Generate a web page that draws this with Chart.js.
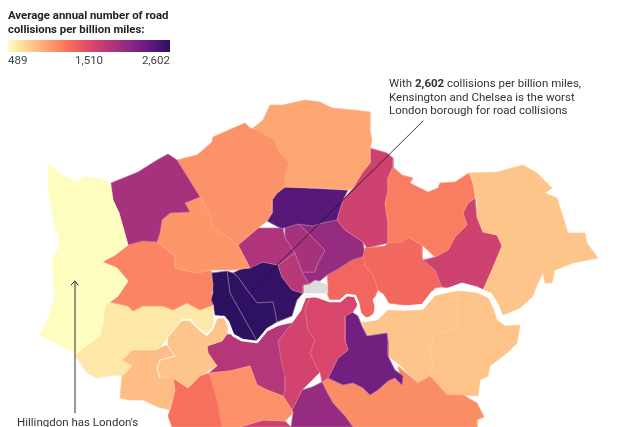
<!DOCTYPE html>
<html><head><meta charset="utf-8">
<style>html,body{margin:0;padding:0;background:#fff;overflow:hidden}canvas{display:block}</style>
<script src="https://cdn.jsdelivr.net/npm/chart.js@4"></script>
</head><body><canvas id="c" width="640" height="427"></canvas>
<script>
// ---- Data: borough names, values and outlines in map units ----
const boroughNames = ["Hillingdon","Harrow","Barnet","Enfield","Brent","Ealing","Hounslow","Richmond","Kingston","Sutton","Merton","SouthEdge","Wandsworth","Lambeth","Southwark","Croydon","Lewisham","Bromley","Greenwich","Bexley","Havering","Redbridge","Barking","Newham","WalthamForest","Haringey","Camden","Islington","Hackney","Holborn","Hammersmith","Kensington","Westminster","City","TowerHamlets"];
const boroughValues = [489,1905,1090,980,1060,1170,616,810,850,1281,1100,1651,1820,1630,1588,2010,2243,1120,810,820,810,1200,1651,1334,1651,2400,1860,1905,2010,1800,2602,2590,2560,null,1340];
const hillingdon = [[48,163],[57,172],[68,178],[78,182],[85,177],[97,178],[110,183],[113,200],[119,213],[128,245],[115,255],[102,262],[117,268],[128,281],[118,296],[110,302],[105,306],[103,323],[100,336],[87,345],[77,353],[72,351],[40,335],[50,313],[55,296],[52,260],[60,245],[58,236],[52,213],[48,190]];
const harrow = [[111,183],[138,172],[157,160],[168,154],[177,160],[200,197],[185,203],[190,212],[170,213],[162,220],[160,233],[157,242],[143,241],[128,245],[119,213],[113,200]];
const barnet = [[177,160],[197,155],[203,150],[212,142],[213,137],[238,126],[245,123],[250,128],[257,130],[275,140],[278,150],[289,163],[285,177],[285,187],[277,193],[272,200],[272,213],[267,221],[258,228],[238,245],[230,238],[213,228],[210,213],[200,197]];
const enfield = [[253,128],[263,120],[270,105],[283,105],[305,100],[320,102],[332,108],[353,110],[370,112],[370,130],[372,140],[370,148],[370,163],[362,173],[353,188],[348,190],[320,188],[285,187],[285,177],[289,163],[278,150],[275,140],[257,130]];
const brent = [[200,197],[185,203],[190,212],[170,213],[162,220],[160,233],[157,242],[175,256],[175,268],[187,271],[197,273],[211,270],[233,270],[250,268],[238,245],[230,238],[213,228],[210,213]];
const ealing = [[128,245],[143,241],[157,242],[175,256],[175,268],[187,271],[197,273],[211,270],[213,285],[211,300],[213,305],[200,310],[187,303],[173,310],[163,306],[143,306],[133,311],[128,306],[110,302],[118,296],[128,281],[117,268],[102,262],[115,255]];
const hounslow = [[110,302],[128,306],[133,311],[143,306],[163,306],[173,310],[187,303],[200,310],[213,305],[213,328],[207,335],[200,330],[190,320],[182,320],[167,338],[160,348],[155,350],[132,350],[122,360],[132,366],[122,376],[113,375],[97,378],[87,373],[75,355],[87,345],[100,336],[103,323],[105,306]];
const richmond = [[182,320],[190,320],[200,330],[207,335],[213,328],[217,317],[224,317],[227,326],[227,334],[222,341],[207,346],[208,353],[217,366],[200,376],[188,388],[173,378],[160,378],[157,368],[160,360],[175,356],[167,345],[167,338]];
const kingston = [[132,350],[155,350],[167,345],[175,356],[160,360],[157,368],[160,378],[173,378],[175,390],[170,410],[158,407],[143,400],[130,400],[120,398],[122,376],[132,366],[122,360]];
const sutton = [[173,378],[188,388],[200,376],[209,373],[217,400],[222,427],[172,427],[168,416],[170,410],[175,390]];
const merton = [[209,373],[230,371],[250,366],[257,385],[267,390],[283,396],[292,410],[293,413],[285,421],[263,420],[240,427],[222,427],[217,413]];
const southEdge = [[240,427],[263,420],[285,421],[291,427]];
const wandsworth = [[207,346],[222,341],[227,334],[233,335],[242,340],[257,342],[267,330],[277,325],[292,323],[278,341],[282,365],[285,376],[285,390],[283,396],[267,390],[257,385],[250,366],[230,371],[209,373],[217,366],[208,353]];
const lambeth = [[292,323],[300,310],[305,296],[310,296],[305,310],[308,330],[315,340],[310,353],[318,370],[320,372],[302,390],[292,410],[283,396],[285,390],[282,365],[278,341]];
const southwark = [[310,296],[320,298],[330,302],[340,301],[347,295],[355,296],[358,304],[353,312],[345,316],[345,341],[348,350],[338,358],[328,378],[322,382],[320,372],[318,370],[310,353],[315,340],[308,330],[305,310]];
const croydon = [[292,410],[302,390],[312,387],[322,382],[328,394],[333,403],[345,416],[353,427],[291,427],[293,413]];
const lewisham = [[345,316],[352,312],[358,316],[362,326],[367,336],[387,333],[388,341],[388,356],[395,370],[403,376],[402,385],[395,378],[388,381],[378,390],[370,395],[363,388],[353,383],[343,385],[328,378],[338,358],[348,350],[345,341]];
const bromley = [[328,378],[343,385],[353,383],[363,388],[370,395],[378,390],[388,381],[395,378],[402,385],[398,366],[418,383],[430,376],[447,395],[463,395],[477,403],[484,417],[477,420],[477,427],[353,427],[345,416],[333,403],[328,394],[322,382]];
const greenwich = [[362,322],[378,320],[388,310],[403,311],[423,310],[435,296],[448,293],[458,291],[458,328],[433,336],[430,350],[433,366],[430,376],[418,383],[400,365],[388,356],[388,341],[387,333],[367,336]];
const bexley = [[458,291],[477,293],[488,298],[493,308],[497,320],[505,326],[520,325],[517,343],[507,353],[490,366],[488,376],[480,380],[478,396],[463,395],[447,395],[433,380],[430,376],[433,366],[430,350],[433,336],[458,328]];
const havering = [[469,173],[497,172],[523,165],[537,173],[552,188],[545,193],[557,198],[568,233],[585,233],[587,243],[598,258],[573,263],[555,270],[552,283],[545,283],[543,273],[537,285],[533,296],[520,308],[503,315],[500,313],[497,301],[490,295],[483,290],[492,270],[502,246],[497,235],[483,232],[477,217],[477,202],[475,193],[473,183]];
const redbridge = [[393,167],[402,175],[413,178],[410,183],[420,188],[428,192],[438,188],[440,183],[455,182],[469,173],[473,183],[475,198],[468,203],[463,213],[467,225],[455,237],[448,250],[435,257],[422,245],[408,237],[403,242],[388,243],[388,223],[385,203],[388,192],[388,178]];
const barking = [[475,198],[477,217],[483,232],[497,235],[502,246],[492,270],[483,290],[477,288],[462,283],[448,288],[442,287],[435,270],[423,260],[435,257],[448,250],[455,237],[467,225],[463,213],[468,203]];
const newham = [[423,260],[435,270],[442,287],[435,288],[427,300],[420,306],[403,305],[388,303],[382,293],[378,290],[373,275],[365,266],[363,256],[365,248],[385,246],[388,243],[408,237],[422,245],[422,256]];
const walthamForest = [[370,148],[387,153],[393,158],[393,167],[388,178],[388,192],[385,203],[388,223],[388,243],[367,248],[363,242],[345,230],[337,220],[343,200],[353,188],[362,173],[370,163]];
const haringey = [[272,200],[277,193],[285,187],[348,190],[343,200],[337,220],[322,223],[313,226],[298,224],[285,228],[280,228],[267,221],[272,213]];
const camden = [[238,245],[258,228],[283,228],[285,238],[295,253],[278,265],[263,262],[250,268]];
const islington = [[285,228],[298,224],[308,233],[318,243],[325,250],[317,265],[315,272],[302,272],[295,253],[285,238]];
const hackney = [[298,224],[313,226],[322,223],[337,220],[345,230],[363,242],[365,256],[352,260],[340,268],[327,275],[320,281],[315,280],[309,284],[302,272],[315,272],[317,265],[325,250],[318,243],[308,233]];
const holborn = [[278,265],[295,253],[302,272],[309,284],[303,285],[303,293],[292,290],[282,277]];
const hammersmith = [[211,273],[227,271],[230,293],[245,320],[257,341],[247,341],[233,335],[227,320],[220,316],[215,315],[213,305],[210,301],[213,293]];
const kensington = [[227,271],[233,273],[238,277],[247,290],[257,303],[273,302],[277,322],[267,328],[257,341],[245,320],[230,293]];
const westminster = [[233,273],[243,268],[257,263],[263,262],[278,265],[282,277],[292,290],[303,293],[297,300],[292,316],[277,322],[273,302],[257,303],[247,290],[238,277]];
const city = [[303,285],[309,284],[315,280],[327,285],[328,293],[303,293]];
const towerHamlets = [[327,275],[340,268],[352,260],[365,256],[365,266],[373,275],[378,290],[375,297],[374,313],[367,318],[361,313],[358,303],[355,296],[347,295],[340,301],[330,301],[327,293],[328,285]];
const boroughShapes = [hillingdon,harrow,barnet,enfield,brent,ealing,hounslow,richmond,kingston,sutton,merton,southEdge,wandsworth,lambeth,southwark,croydon,lewisham,bromley,greenwich,bexley,havering,redbridge,barking,newham,walthamForest,haringey,camden,islington,hackney,holborn,hammersmith,kensington,westminster,city,towerHamlets];
const riverUpper = [[182,320],[167,338],[167,345],[175,356],[160,360],[157,368],[160,378]];
const riverWest = [[182,320],[190,320],[200,330],[207,335],[213,328],[217,317]];
const riverMid = [[217,317],[224,317],[228,322],[233,335],[242,340],[257,342],[267,330],[277,325],[292,321],[300,310],[305,297],[316,296],[330,301],[340,301],[347,295],[355,296],[358,303],[360,313],[365,320]];
const riverEast = [[365,320],[375,318],[377,306],[375,300],[382,296],[388,306],[403,308],[423,306],[433,293],[448,290],[462,285],[477,289],[490,295],[497,306],[502,320],[520,316]];
const worstLeader = [[423,121],[253,289]];
const hillingdonLeader = [[75,413],[75,281]];
const arrowHead = [[71,285],[75,281],[78,285]];
const legendTicks = ["489","1,510","2,602"];
const legendTitle = ["Average annual number of road","collisions per billion miles:"];
const noteWorst = [[["With ",0],["2,602",1],[" collisions per billion miles,",0]],[["Kensington and Chelsea is the worst",0]],[["London borough for road collisions",0]]];
const noteBest = ["Hillingdon has London's"];

// ---- Style ----
const ramp = ["#fcfdbf","#fecf92","#fe9f6d","#f7705c","#de4968","#b73779","#8c2981","#641a80","#2b1160"];
const hex = h => [1,3,5].map(i => parseInt(h.substr(i,2),16));
function rgbFor(v){
  if (v === null) return [220,220,220];
  const t = Math.max(0,Math.min(1,(v-489)/(2602-489)))*(ramp.length-1);
  const i = Math.min(Math.floor(t),ramp.length-2), f = t-i;
  const a = hex(ramp[i]), b = hex(ramp[i+1]);
  return a.map((c,k)=>Math.round(c+(b[k]-c)*f));
}
const css = a => "rgb("+a.join(",")+")";
const pts = a => a.map(p => ({x:p[0],y:p[1]}));
const line = (a,color,width) => ({data:pts(a),borderColor:color,borderWidth:width,pointRadius:0,fill:false,tension:0,borderCapStyle:"round",borderJoinStyle:"round"});
const datasets = [
  line(hillingdonLeader,"#333",1), line(arrowHead,"#333",1), line(worstLeader,"rgba(30,20,40,.85)",1),
  line(riverUpper,"rgba(255,255,255,.8)",1), line(riverWest,"#fff",1.6), line(riverMid,"#fff",2.6), line(riverEast,"#fff",4.4)
];
boroughShapes.forEach((s,i) => {
  const v = boroughValues[i], rgb = rgbFor(v);
  const mix = v === null ? 0 : .08 + .32*(v-489)/(2602-489);
  datasets.push({
    label:boroughNames[i], data:pts(s.concat([s[0]])), backgroundColor:css(rgb),
    borderColor:css(rgb.map(c=>Math.round(c+(255-c)*mix))), borderWidth:.7, pointRadius:0, fill:"shape", tension:0
  });
});

const textPlugin = {id:"notes", afterDraw(ch){
  const c = ch.ctx; c.save(); c.textBaseline="alphabetic";
  c.fillStyle="#222"; c.font="bold 11.4px Roboto";
  legendTitle.forEach((t,i)=>c.fillText(t,8,19+i*13.5));
  const g=c.createLinearGradient(8,0,170,0);
  ramp.forEach((k,i)=>g.addColorStop(i/(ramp.length-1),k));
  c.fillStyle=g; c.fillRect(8,40,162,12);
  c.fillStyle="#444"; c.font="11.5px Roboto";
  c.textAlign="left"; c.fillText(legendTicks[0],8,64);
  c.textAlign="center"; c.fillText(legendTicks[1],89,64);
  c.textAlign="right"; c.fillText(legendTicks[2],170,64);
  c.textAlign="left"; c.fillStyle="#333";
  noteWorst.forEach((runs,i)=>{ let x=389; runs.forEach(r=>{ c.font=(r[1]?"bold ":"")+"11.5px Roboto"; c.fillText(r[0],x,87+i*13.5); x+=c.measureText(r[0]).width; }); });
  c.font="11.5px Roboto"; c.fillText(noteBest[0],17,426);
  c.restore();
}};

new Chart(document.getElementById("c"),{
  type:"line",
  data:{datasets},
  options:{
    responsive:false, animation:false, parsing:false, normalized:false,
    layout:{padding:0},
    scales:{
      x:{type:"linear",min:0,max:640,display:false},
      y:{type:"linear",min:0,max:427,reverse:true,display:false}
    },
    plugins:{legend:{display:false},tooltip:{enabled:false},filler:{propagate:false}}
  },
  plugins:[textPlugin]
});
</script></body></html>
